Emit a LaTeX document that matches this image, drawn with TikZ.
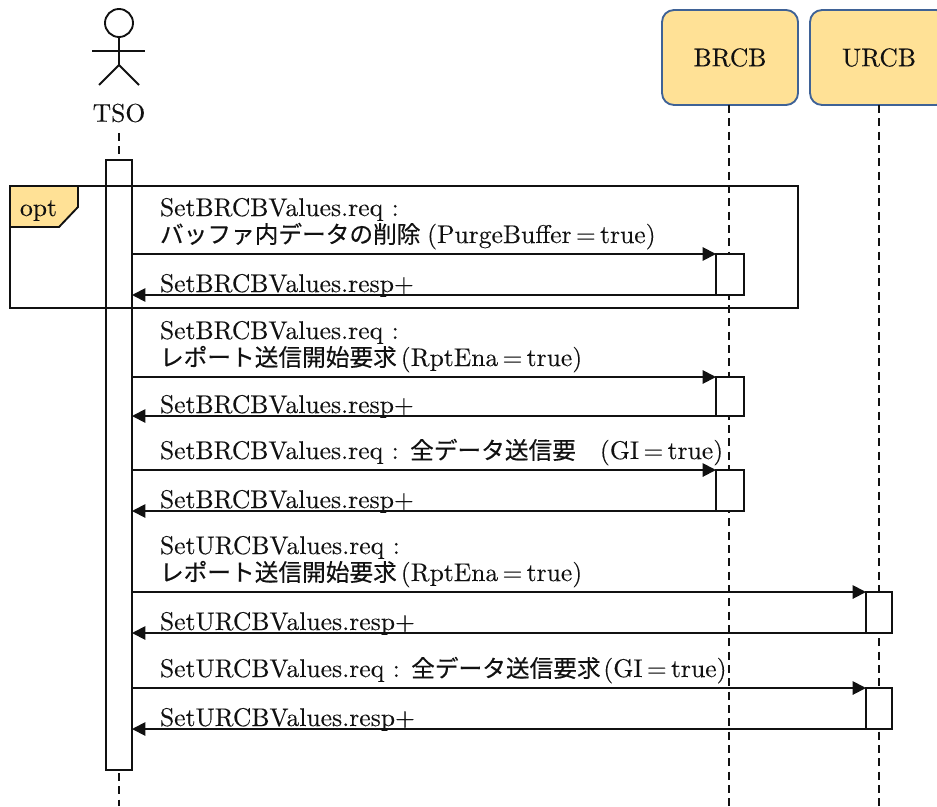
\documentclass[tikz,border=0pt]{standalone}
\usepackage{fontspec}
\setmainfont{lmroman10-regular.otf}[FakeBold=0.12]
\newfontfamily\jpf[Scale=0.925,FakeBold=0.35]{Noto Sans CJK JP}
\newcommand\eqsign{\hspace{3.2pt}=\hspace{3.2pt}}
\usetikzlibrary{arrows.meta}
\definecolor{tagfill}{HTML}{FFE196}
\definecolor{boxedge}{HTML}{3F6296}
\definecolor{ink}{HTML}{111111}
\tikzset{
  thick line/.style={line width=1.4pt,draw=ink},
  lifeline/.style={line width=1.4pt,draw=ink,dash pattern=on 6pt off 4pt},
  msg/.style={thick line,-{Triangle[length=10pt,width=10pt]}},
  actbox/.style={rectangle,thick line,fill=white,inner sep=0pt,outer sep=0pt,minimum width=#1},
  actbox/.default=20pt,
  party/.style={rectangle,rounded corners=9pt,line width=1.4pt,draw=boxedge,fill=tagfill,inner sep=0pt,outer sep=0pt,minimum height=71.25pt,minimum width=102pt},
  label/.style={anchor=base west,inner sep=0pt,outer sep=0pt,text=ink,font=\fontsize{19.2}{23}\selectfont},
  clabel/.style={inner sep=0pt,outer sep=0pt,text=ink,font=\fontsize{19.2}{23}\selectfont},
  frame box/.style={rectangle,thick line,inner sep=0pt,outer sep=0pt,minimum width=591pt,minimum height=91.5pt}
}
\begin{document}
\begin{tikzpicture}[x=0.75pt,y=-0.75pt]
\clip (0,0) rectangle (937,806);
% actor
\node[circle,thick line,minimum size=21pt,inner sep=0pt,outer sep=0pt] (head) at (119,23) {};
\coordinate (hip) at (119,65);
\coordinate (armL) at (92,51);
\coordinate (armR) at (145,51);
\coordinate (legL) at (99,85);
\coordinate (legR) at (139,85);
\draw[thick line] (head.south) -- (hip);
\draw[thick line] (armL) -- (armR);
\draw[thick line] (legL) -- (hip) -- (legR);
\node[clabel] (tso) at (119,113) {TSO};
% parties
\node[party] (brcb) at (730,57.5) {\fontsize{19.2}{23}\selectfont\color{ink}BRCB};
\node[party,minimum width=103.5pt] (urcb) at (879,57.5) {\fontsize{19.2}{23}\selectfont\color{ink}URCB};
% lifelines
\coordinate (tsoEnd) at (119,806);
\coordinate (brcbEnd) at (729,806);
\coordinate (brcbTop) at (729,105);
\coordinate (urcbEnd) at (879,806);
\coordinate (tsoTop) at (119,133);
\draw[lifeline] (tsoTop) -- (tsoEnd);
\draw[lifeline] (brcbTop) -- (brcbEnd);
\draw[lifeline] (urcb.south) -- (urcbEnd);
% activations
\node[actbox=19.5pt,minimum height=457.5pt] (tsoact) at (119,465) {};
% opt frame
\node[frame box] (optframe) at (404,247) {};
\draw[thick line,fill=tagfill] (10,186) -- (78,186) -- (78,207) -- (59,227) -- (10,227) -- cycle;
\node[label] (opt) at (20,216) {opt};
% receiver activations
\node[actbox=21pt,minimum height=30.75pt] (b1) at (730,274.5) {};
\node[actbox=21pt,minimum height=29.25pt] (b2) at (730,396.5) {};
\node[actbox=21pt,minimum height=30.75pt] (b3) at (730,490.5) {};
\node[actbox=19.5pt,minimum height=30.75pt] (u1) at (879,612.5) {};
\node[actbox=19.5pt,minimum height=30.75pt] (u2) at (879,708.5) {};
% messages
\foreach \r in {b1,b2,b3,u1,u2}{
  \draw[msg] (tsoact.east |- \r.north west) -- (\r.north west);
  \draw[msg] (\r.south west) -- (tsoact.east |- \r.south west);
}
% labels
\node[label] (m1a) at (160,216) {SetBRCBValues.req :};
\node[label] (m1b) at (160,243) {{\jpf バッファ内データの削除}\hspace{5pt}(PurgeBuffer\eqsign true)};
\node[label] (r1) at (160,292) {SetBRCBValues.resp+};
\node[label] (m2a) at (160,339) {SetBRCBValues.req :};
\node[label] (m2b) at (160,366) {{\jpf レポート送信開始要求}\hspace{3pt}(RptEna\eqsign true)};
\node[label] (r2) at (160,413) {SetBRCBValues.resp+};
\node[label] (m3) at (160,459) {SetBRCBValues.req : {\jpf 全データ送信要}\hspace{18pt}(GI\eqsign true)};
\node[label] (r3) at (160,508) {SetBRCBValues.resp+};
\node[label] (m4a) at (160,554) {SetURCBValues.req :};
\node[label] (m4b) at (160,581) {{\jpf レポート送信開始要求}\hspace{3pt}(RptEna\eqsign true)};
\node[label] (r4) at (160,630) {SetURCBValues.resp+};
\node[label] (m5) at (160,677) {SetURCBValues.req : {\jpf 全データ送信要求}\hspace{2pt}(GI\eqsign true)};
\node[label] (r5) at (160,726) {SetURCBValues.resp+};
\end{tikzpicture}
\end{document}
